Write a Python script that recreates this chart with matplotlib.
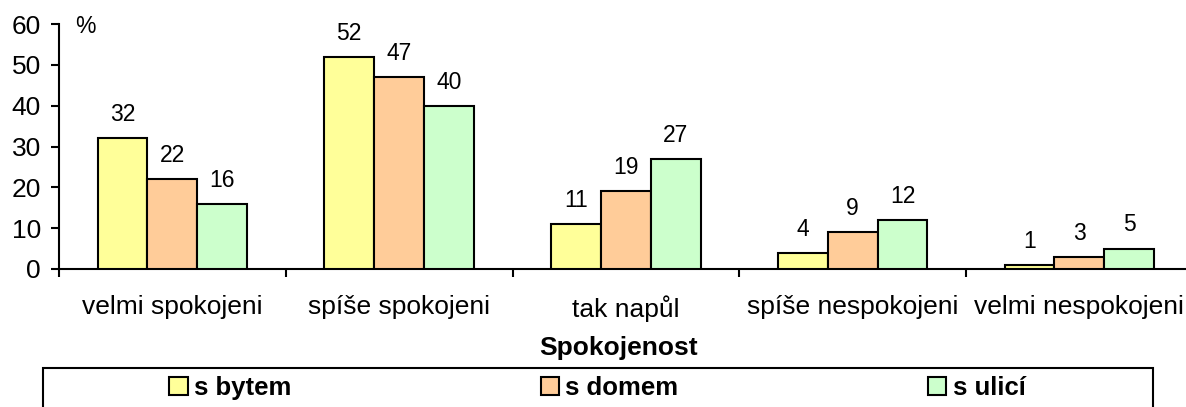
import numpy as np
import matplotlib
matplotlib.use("Agg")
import matplotlib.pyplot as plt
from matplotlib.patches import Rectangle

plt.rcParams['font.family'] = ['Liberation Sans', 'DejaVu Sans']

# data
categories = ["velmi spokojeni", "spíše spokojeni", "tak napůl",
              "spíše nespokojeni", "velmi nespokojeni"]
series_names = ["s bytem", "s domem", "s ulicí"]
s_bytem = [32, 52, 11, 4, 1]
s_domem = [22, 47, 19, 9, 3]
s_ulici = [16, 40, 27, 12, 5]
colors = ["#FFFF99", "#FFCC99", "#CCFFCC"]

W, H = 1186, 407
fig = plt.figure(figsize=(W / 100, H / 100), dpi=100)

# axes placed in pixels (left edge 59, x axis at y=269, top at y=24)
left, right, top, bottom = 59, 59 + 5 * 226.75, 24, 269
ax = fig.add_axes([left / W, 1 - bottom / H, (right - left) / W, (bottom - top) / H])

x = np.arange(len(categories))
bw = 0.22
for i, (vals, name) in enumerate(zip([s_bytem, s_domem, s_ulici], series_names)):
    pos = x + (i - 1) * bw
    ax.bar(pos, vals, width=bw, color=colors[i], edgecolor="black",
           linewidth=1.5, label=name, zorder=3)
    for px, v in zip(pos, vals):
        ax.annotate(str(v), (px, v), xytext=(0, 17), textcoords="offset points",
                    ha="center", va="center", fontsize=16.5)

ax.set_xlim(-0.5, len(categories) - 0.5)
ax.set_ylim(0, 60)
ax.set_yticks(range(0, 61, 10))
ax.tick_params(axis="y", labelsize=19, length=6, width=1.5, pad=7, direction="out")

# ticks on the category borders, labels in the middle
ax.set_xticks(np.arange(-0.5, len(categories), 1))
ax.set_xticklabels([])
ax.set_xticks(x, minor=True)
ax.set_xticklabels(categories, minor=True, fontsize=19)
ax.tick_params(axis="x", which="major", length=6, width=1.5, direction="out")
ax.tick_params(axis="x", which="minor", length=0, pad=19)

for s in ["top", "right"]:
    ax.spines[s].set_visible(False)
for s in ["left", "bottom"]:
    ax.spines[s].set_linewidth(1.5)

ax.text(0.023, 0.988, "%", transform=ax.transAxes, ha="center", va="center", fontsize=16.5)

fig.text(619 / W, 1 - 348 / H, "Spokojenost", ha="center", va="center",
         fontsize=19, fontweight="bold")

# legend frame like the excel one, bottom runs off the picture
fig.patches.append(Rectangle((43 / W, -0.05), (1153 - 43) / W, 1 - 368 / H + 0.05,
                             transform=fig.transFigure, fill=False,
                             edgecolor="black", linewidth=1.5))
handles, labels = ax.get_legend_handles_labels()
fig.legend(handles, labels, loc="center left", bbox_to_anchor=(169 / W, 1 - 388 / H),
           ncol=3, frameon=False, borderpad=0, borderaxespad=0,
           handlelength=0.72, handleheight=0.72, handletextpad=0.25, columnspacing=9.7,
           prop={"weight": "bold", "size": 18.5})

plt.savefig("out.png", dpi=100)
